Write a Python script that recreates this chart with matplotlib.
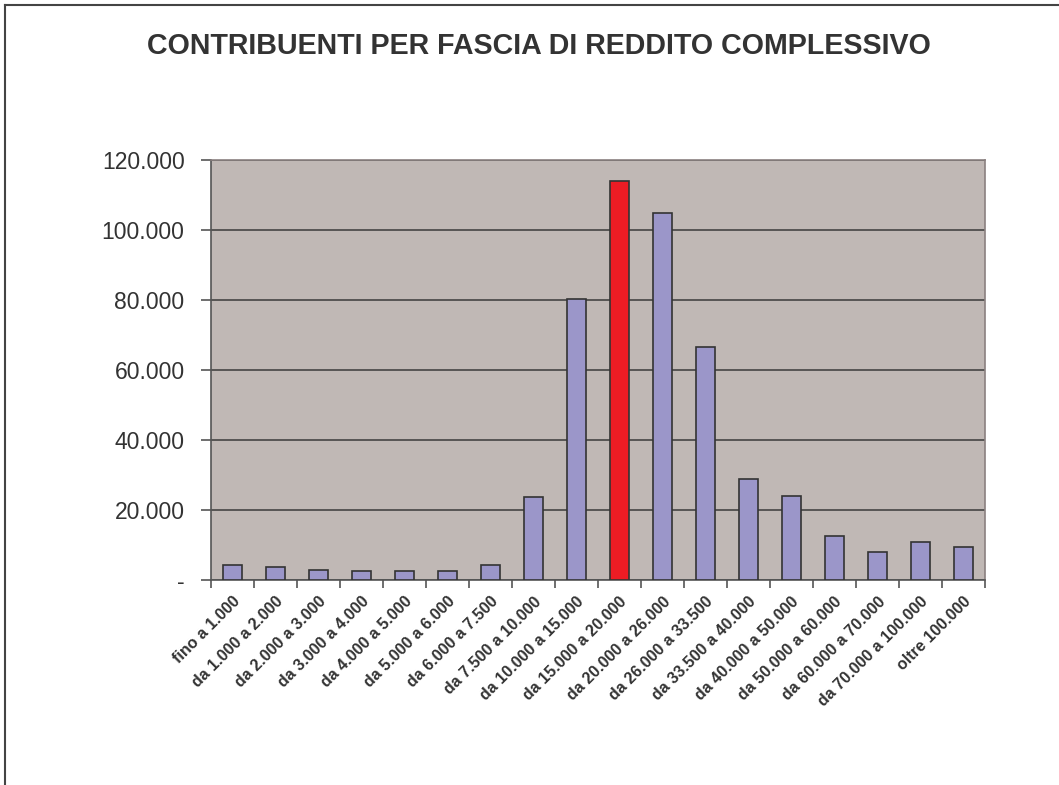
import matplotlib
matplotlib.use('Agg')
import matplotlib.pyplot as plt
from matplotlib.lines import Line2D
from matplotlib.ticker import FuncFormatter, FixedLocator

# fasce di reddito e numero di contribuenti
fasce = ['fino a 1.000', 'da 1.000 a 2.000', 'da 2.000 a 3.000', 'da 3.000 a 4.000',
         'da 4.000 a 5.000', 'da 5.000 a 6.000', 'da 6.000 a 7.500', 'da 7.500 a 10.000',
         'da 10.000 a 15.000', 'da 15.000 a 20.000', 'da 20.000 a 26.000', 'da 26.000 a 33.500',
         'da 33.500 a 40.000', 'da 40.000 a 50.000', 'da 50.000 a 60.000', 'da 60.000 a 70.000',
         'da 70.000 a 100.000', 'oltre 100.000']
contribuenti = [4200, 3800, 2900, 2600, 2600, 2600, 4400, 23600,
                80400, 114000, 104800, 66700, 29000, 24000, 12600, 7900, 10900, 9400]
evidenziata = 'da 15.000 a 20.000'

plt.rcParams['font.family'] = ['Liberation Sans', 'DejaVu Sans']

fig = plt.figure(figsize=(10.59, 7.85), dpi=100)
ax = fig.add_axes([0.1992, 0.2611, 0.7309, 0.5350])
ax.set_facecolor('#C0B8B5')

colori = ['#ED1C24' if f == evidenziata else '#9B96C9' for f in fasce]
x = list(range(len(fasce)))
ax.bar(x, contribuenti, width=0.44, color=colori, edgecolor='#333333', linewidth=1.2, zorder=3)

ax.set_xlim(-0.5, len(fasce) - 0.5)
ax.set_ylim(0, 120000)
ax.set_yticks(range(0, 120001, 20000))
ax.yaxis.set_major_formatter(FuncFormatter(
    lambda v, p: '-' if v == 0 else f'{int(v):,}'.replace(',', '.')))
ax.grid(axis='y', color='#3A3A3A', linewidth=1.1, zorder=1)

# tacche tra le categorie, etichette al centro
ax.xaxis.set_major_locator(FixedLocator([i - 0.5 for i in range(len(fasce) + 1)]))
ax.xaxis.set_major_formatter(FuncFormatter(lambda v, p: ''))
ax.xaxis.set_minor_locator(FixedLocator(x))
ax.set_xticklabels(fasce, minor=True, rotation=45, ha='right', va='top',
                   rotation_mode='anchor', fontsize=11.5, fontweight='bold', color='#333333')
ax.tick_params(axis='x', which='minor', length=0, pad=10)
ax.tick_params(axis='x', which='major', length=6, width=1.2, color='#555555', direction='out')
ax.tick_params(axis='y', length=7, width=1.2, color='#555555', labelsize=16.5,
               labelcolor='#333333', pad=12)

for s in ['top', 'right']:
    ax.spines[s].set_color('#8A8080')
    ax.spines[s].set_linewidth(1.2)
for s in ['left', 'bottom']:
    ax.spines[s].set_color('#555555')
    ax.spines[s].set_linewidth(1.2)

fig.text(0.5085, 0.941, 'CONTRIBUENTI PER FASCIA DI REDDITO COMPLESSIVO',
         ha='center', va='center', fontsize=20.6, fontweight='bold', color='#333333')

# cornice del grafico (lati sinistro e superiore)
fig.add_artist(Line2D([5 / 1059, 5 / 1059], [0, 1 - 5 / 785], transform=fig.transFigure,
                      color='#444444', linewidth=1.5))
fig.add_artist(Line2D([5 / 1059, 1], [1 - 5 / 785, 1 - 5 / 785], transform=fig.transFigure,
                      color='#444444', linewidth=1.5))

fig.savefig('out.png', dpi=100)
